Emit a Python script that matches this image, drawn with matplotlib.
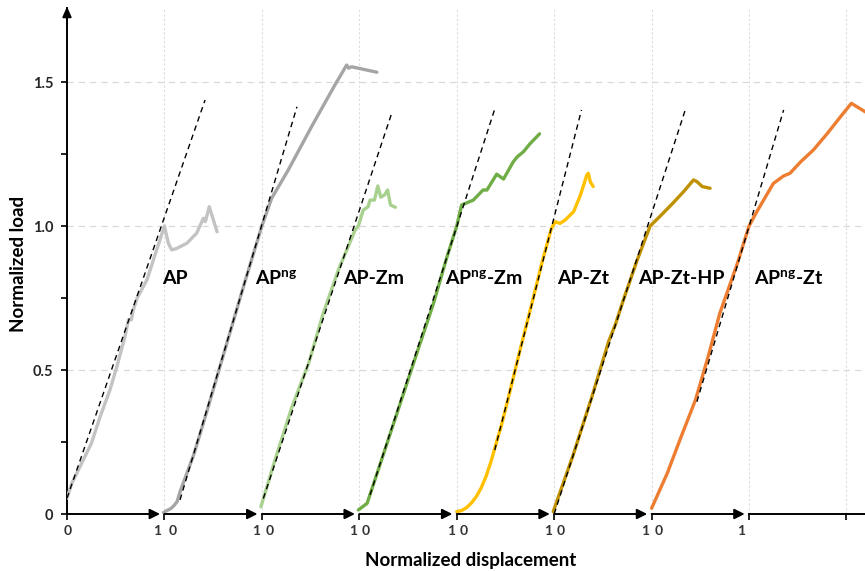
import matplotlib
matplotlib.use("Agg")
import matplotlib.pyplot as plt

plt.rcParams['font.family'] = ['Lato', 'DejaVu Sans']
plt.rcParams['mathtext.fontset'] = 'custom'
plt.rcParams['mathtext.rm'] = 'Lato:bold'
plt.rcParams['mathtext.it'] = 'Lato:bold'
plt.rcParams['mathtext.bf'] = 'Lato:bold'

# ---------------- data ----------------
labels = ['AP', r'AP$^{\mathrm{ng}}$', 'AP-Zm', r'AP$^{\mathrm{ng}}$-Zm',
          'AP-Zt', 'AP-Zt-HP', r'AP$^{\mathrm{ng}}$-Zt']
colors = ['#c3c3c3', '#a5a5a5', '#a9d18e', '#70ad47', '#ffc000', '#bf9000', '#ed7d31']

ap_x = [0.0, 0.05, 0.15, 0.25, 0.34, 0.44, 0.51, 0.595, 0.63, 0.66, 0.68, 0.72, 0.82, 0.92, 1.0,
        1.04, 1.075, 1.125, 1.23, 1.33, 1.40, 1.42, 1.46, 1.54]
ap_y = [0.055, 0.107, 0.176, 0.245, 0.338, 0.43, 0.51, 0.616, 0.674, 0.674, 0.708, 0.75, 0.8125, 0.917, 1.0,
        0.94, 0.917, 0.922, 0.94, 0.975, 1.027, 1.015, 1.067, 0.98]

apng_x = [0.99, 1.07, 1.10, 1.13, 1.16, 1.30, 1.43, 1.56, 1.69, 1.82, 1.91, 2.0, 2.10, 2.27, 2.51,
          2.75, 2.82, 2.87, 2.89, 2.92, 3.18]
apng_y = [0.005, 0.02, 0.03, 0.043, 0.077, 0.205, 0.35, 0.5, 0.65, 0.80, 0.90, 1.0, 1.096, 1.194, 1.345,
          1.49, 1.53, 1.559, 1.548, 1.553, 1.534]

apzm_x = [1.99, 2.135, 2.31, 2.48, 2.63, 2.785, 2.957, 2.99, 3.04, 3.09, 3.11, 3.155, 3.19, 3.22,
          3.26, 3.29, 3.32, 3.37]
apzm_y = [0.025, 0.1875, 0.373, 0.523, 0.697, 0.847, 0.986, 1.0, 1.055, 1.067, 1.09, 1.09, 1.139, 1.10,
          1.108, 1.125, 1.073, 1.065]

apngzm_x = [2.99, 3.08, 3.25, 3.42, 3.59, 3.76, 3.90, 4.0, 4.05, 4.17, 4.27, 4.31, 4.41, 4.48, 4.58,
            4.62, 4.685, 4.75, 4.85]
apngzm_y = [0.014, 0.037, 0.21, 0.384, 0.558, 0.73, 0.893, 1.0, 1.073, 1.09, 1.125, 1.125, 1.18, 1.163,
            1.223, 1.24, 1.258, 1.285, 1.32]

apzt_x = [4.0, 4.05, 4.10, 4.15, 4.20, 4.25, 4.30, 4.35, 4.40, 4.46, 4.52, 4.65, 4.78, 4.88, 4.97,
          5.01, 5.06, 5.11, 5.20, 5.27, 5.335, 5.35, 5.37, 5.40]
apzt_y = [0.008, 0.012, 0.022, 0.038, 0.06, 0.09, 0.13, 0.18, 0.24, 0.31, 0.39, 0.57, 0.743, 0.88, 0.99,
          1.015, 1.009, 1.02, 1.05, 1.108, 1.177, 1.183, 1.154, 1.137]

apzthp_x = [4.99, 5.19, 5.39, 5.56, 5.63, 5.71, 5.85, 5.985, 6.09, 6.22, 6.33, 6.43, 6.465, 6.52, 6.60]
apzthp_y = [0.008, 0.2, 0.41, 0.6, 0.66, 0.743, 0.88, 1.0, 1.035, 1.08, 1.12, 1.16, 1.154, 1.137, 1.131]

apngzt_x = [6.0, 6.16, 6.29, 6.45, 6.58, 6.70, 6.88, 7.0, 7.07, 7.17, 7.25, 7.355, 7.42, 7.53, 7.66,
            7.80, 7.94, 8.05, 8.19, 8.25]
apngzt_y = [0.02, 0.141, 0.257, 0.396, 0.546, 0.697, 0.87, 1.0, 1.044, 1.102, 1.148, 1.174, 1.183, 1.223,
            1.264, 1.32, 1.38, 1.426, 1.397, 1.385]

curves_x = [ap_x, apng_x, apzm_x, apngzm_x, apzt_x, apzthp_x, apngzt_x]
curves_y = [ap_y, apng_y, apzm_y, apngzm_y, apzt_y, apzthp_y, apngzt_y]

# dashed initial-stiffness lines (start x, start y, end x, end y)
dash_x0 = [0.0, 1.16, 2.015, 3.11, 4.39, 5.0, 6.465]
dash_y0 = [0.055, 0.049, 0.054, 0.066, 0.222, 0.0, 0.39]
dash_x1 = [1.417, 2.36, 3.33, 4.387, 5.28, 6.345, 7.355]
dash_y1 = [1.4375, 1.414, 1.389, 1.403, 1.403, 1.403, 1.403]

# label anchor (left x)
label_x = [0.975, 1.93, 2.83, 3.88, 5.03, 5.86, 7.05]
label_y = 0.80

yticks = [0, 0.5, 1.0, 1.5]
ytick_labels = ['0', '0.5', '1.0', '1.5']
yminor = [0.25, 0.75, 1.25]

xtick_pos = [0.004, 0.92, 1.08, 1.94, 2.08, 2.94, 3.07, 3.94, 4.07, 4.94, 5.07, 5.93, 6.07, 6.92]
xtick_labels = ['0', '1', '0', '1', '0', '1', '0', '1', '0', '1', '0', '1', '0', '1']

# ---------------- figure ----------------
fig = plt.figure(figsize=(8.65, 5.71), dpi=100)
ax = fig.add_axes([67 / 865, 57 / 571, 798 / 865, 506 / 571])
ax.set_xlim(0, 8.19)
ax.set_ylim(0, 1.757)

for s in ['top', 'right', 'bottom']:
    ax.spines[s].set_visible(False)
ax.spines['left'].set_linewidth(1.4)
ax.spines['left'].set_color('black')

# gridlines
for y in yticks[1:]:
    ax.axhline(y, color='#d9d9d9', lw=0.9, ls=(0, (5, 4)), zorder=0)
for k in range(1, 9):
    ax.axvline(k, color='#dcdcdc', lw=0.8, ls=(0, (2, 2)), zorder=0)

# y axis ticks
ax.set_yticks(yticks)
ax.set_yticklabels(ytick_labels)
ax.set_yticks(yminor, minor=True)
ax.tick_params(axis='y', which='both', direction='out', length=4, width=1.2, color='black')
ax.tick_params(axis='y', which='major', labelsize=10.5, pad=6, labelcolor='#262626')
for t in ax.get_yticklabels():
    t.set_fontweight('bold')

# x axis: ticks at segment starts, labels as minor ticks
ax.set_xticks(range(0, 9))
ax.set_xticklabels([])
ax.tick_params(axis='x', which='major', direction='out', length=4, width=1.2, color='black')
ax.set_xticks(xtick_pos, minor=True)
ax.set_xticklabels(xtick_labels, minor=True)
ax.tick_params(axis='x', which='minor', length=0, pad=8, labelsize=10, labelcolor='#333333')
for t in ax.get_xticklabels(minor=True):
    t.set_fontweight('bold')

# y arrow head
ax.annotate('', xy=(0, 1.762), xytext=(0, 1.70),
            arrowprops=dict(arrowstyle='-|>,head_length=0.5,head_width=0.22', color='black',
                            lw=1.4, mutation_scale=12, shrinkA=0, shrinkB=0),
            annotation_clip=False)

# x segments with arrows
for k in range(7):
    ax.annotate('', xy=(k + 0.955, 0), xytext=(k, 0),
                arrowprops=dict(arrowstyle='-|>,head_length=0.5,head_width=0.25', color='black',
                                lw=1.4, mutation_scale=12, shrinkA=0, shrinkB=0),
                annotation_clip=False, zorder=5)
ax.plot([7, 8.19], [0, 0], color='black', lw=1.4, clip_on=False, zorder=5)

# curves
for xs, ys, c in zip(curves_x, curves_y, colors):
    ax.plot(xs, ys, color=c, lw=2.4, solid_joinstyle='round', solid_capstyle='round', zorder=3)

for x0, y0, x1, y1 in zip(dash_x0, dash_y0, dash_x1, dash_y1):
    ax.plot([x0, x1], [y0, y1], color='black', lw=1.0, ls=(0, (4, 3)), zorder=4)

for lx, lab in zip(label_x, labels):
    ax.text(lx, label_y, lab, fontsize=14, fontweight='bold', ha='left', va='baseline',
            color='black', zorder=6)

fig.text(18.5 / 865, 1 - 263.5 / 571, 'Normalized load', rotation=90, ha='center', va='center',
         fontsize=13.5, fontweight='bold')
fig.text(471 / 865, 1 - 566 / 571, 'Normalized displacement', ha='center', va='baseline',
         fontsize=13.5, fontweight='bold')

fig.savefig('out.png', dpi=100)
